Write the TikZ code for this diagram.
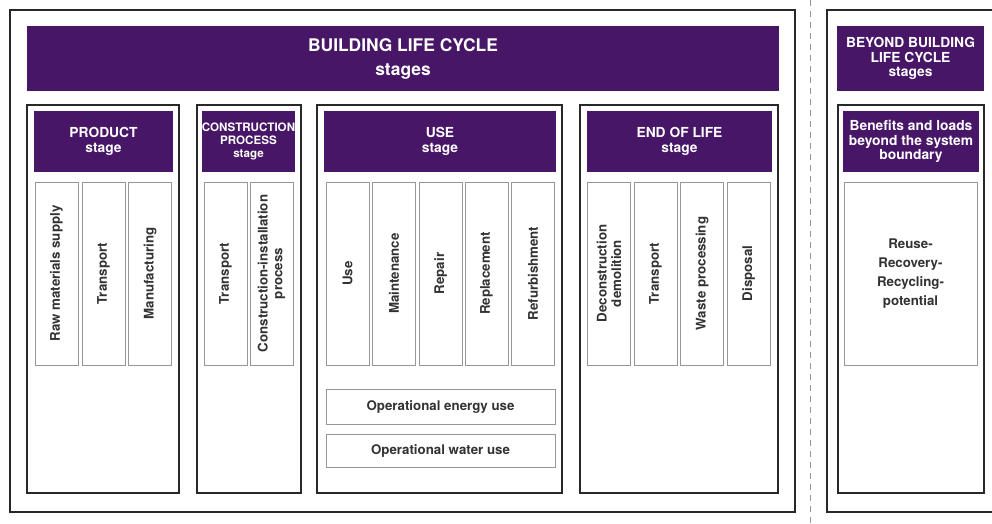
\documentclass[tikz,border=0pt]{standalone}
\usepackage{fontspec}
\setmainfont{TeX Gyre Heros}
\usepackage{tikz}
\usepackage{xcolor}
\definecolor{lcpurple}{RGB}{72,22,102}
\definecolor{lcframe}{RGB}{40,40,40}
\definecolor{lcline}{RGB}{150,150,150}
\definecolor{lctext}{RGB}{50,50,50}

\begin{document}
\begin{tikzpicture}[x=1pt,y=-1pt]
\tikzstyle{every node}=[inner sep=0pt, align=center]
\tikzstyle{frame}=[draw=lcframe, line width=2.6pt]
\tikzstyle{band}=[fill=lcpurple, text=white, font=\bfseries\fontsize{13.8}{14.6}\selectfont]
\tikzstyle{module}=[draw=lcline, line width=0.9pt, text=lctext, font=\bfseries\fontsize{13.3}{14.6}\selectfont]
\tikzstyle{col}=[module, rotate=90, minimum width=183pt, minimum height=43pt]
\clip (0,0) rectangle (992,524);
% outer boundaries and the dashed divider
\node[frame, minimum width=785pt, minimum height=502pt] (life) at (402.5,261) {};
\node[frame, minimum width=183pt, minimum height=502pt] (beyond) at (918.5,261) {};
\coordinate (divtop) at (810,0);
\coordinate (divbot) at (810,524);
\draw[lcline, line width=1pt, dash pattern=on 6pt off 5pt] (divtop) -- (divbot);
% big banners
\node[band, minimum width=752pt, minimum height=65pt,
  font=\bfseries\fontsize{17.4}{24}\selectfont] (lifehead) at (403,58.5)
  {BUILDING LIFE CYCLE\\stages};
\node[band, minimum width=147pt, minimum height=65pt] (beyondhead) at (910.5,58.5)
  {BEYOND BUILDING\\LIFE CYCLE\\stages};
% stage frames
\node[frame, minimum width=152pt, minimum height=388pt] (prodF) at (103,299) {};
\node[frame, minimum width=104pt, minimum height=388pt] (consF) at (249,299) {};
\node[frame, minimum width=245pt, minimum height=388pt] (useF) at (439.5,299) {};
\node[frame, minimum width=198pt, minimum height=388pt] (eolF) at (679,299) {};
\node[frame, minimum width=146pt, minimum height=388pt] (beyF) at (911,299) {};
% stage headers
\node[band, minimum width=139pt, minimum height=61pt] (prodH) at (103.5,141.5) {PRODUCT\\stage};
\node[band, minimum width=93pt, minimum height=61pt,
  font=\bfseries\fontsize{11.6}{13.4}\selectfont] (consH) at (248.5,141.5) {CONSTRUCTION\\PROCESS\\stage};
\node[band, minimum width=232pt, minimum height=61pt] (useH) at (440,141.5) {USE\\stage};
\node[band, minimum width=185pt, minimum height=61pt] (eolH) at (679.5,141.5) {END OF LIFE\\stage};
\node[band, minimum width=136pt, minimum height=61pt] (beyH) at (911,141.5)
  {Benefits and loads\\beyond the system\\boundary};
% product stage modules
\node[col] (raw) at (56.5,273.5) {Raw materials supply};
\node[col] (prodtr) at (103.5,273.5) {Transport};
\node[col] (manuf) at (150,273.5) {Manufacturing};
% construction process modules
\node[col] (constr) at (225.5,273.5) {Transport};
\node[col] (install) at (271.5,273.5) {Construction-installation\\process};
% use stage modules
\node[col] (use) at (347.5,273.5) {Use};
\node[col] (maint) at (394,273.5) {Maintenance};
\node[col] (repair) at (440.5,273.5) {Repair};
\node[col] (replace) at (486.5,273.5) {Replacement};
\node[col] (refurb) at (533,273.5) {Refurbishment};
\node[module, minimum width=229pt, minimum height=35pt] (energy) at (440.5,406.5) {Operational energy use};
\node[module, minimum width=229pt, minimum height=33pt] (water) at (440.5,450.5) {Operational water use};
% end of life modules
\node[col] (demol) at (609,273.5) {Deconstruction\\demolition};
\node[col] (eoltr) at (655.5,273.5) {Transport};
\node[col] (waste) at (702,273.5) {Waste processing};
\node[col] (dispos) at (748.5,273.5) {Disposal};
% beyond the system boundary
\node[module, minimum width=133pt, minimum height=183pt,
  font=\bfseries\fontsize{13.3}{19}\selectfont] (reuse) at (910.5,273.5)
  {Reuse-\\Recovery-\\Recycling-\\potential};
\end{tikzpicture}
\end{document}
